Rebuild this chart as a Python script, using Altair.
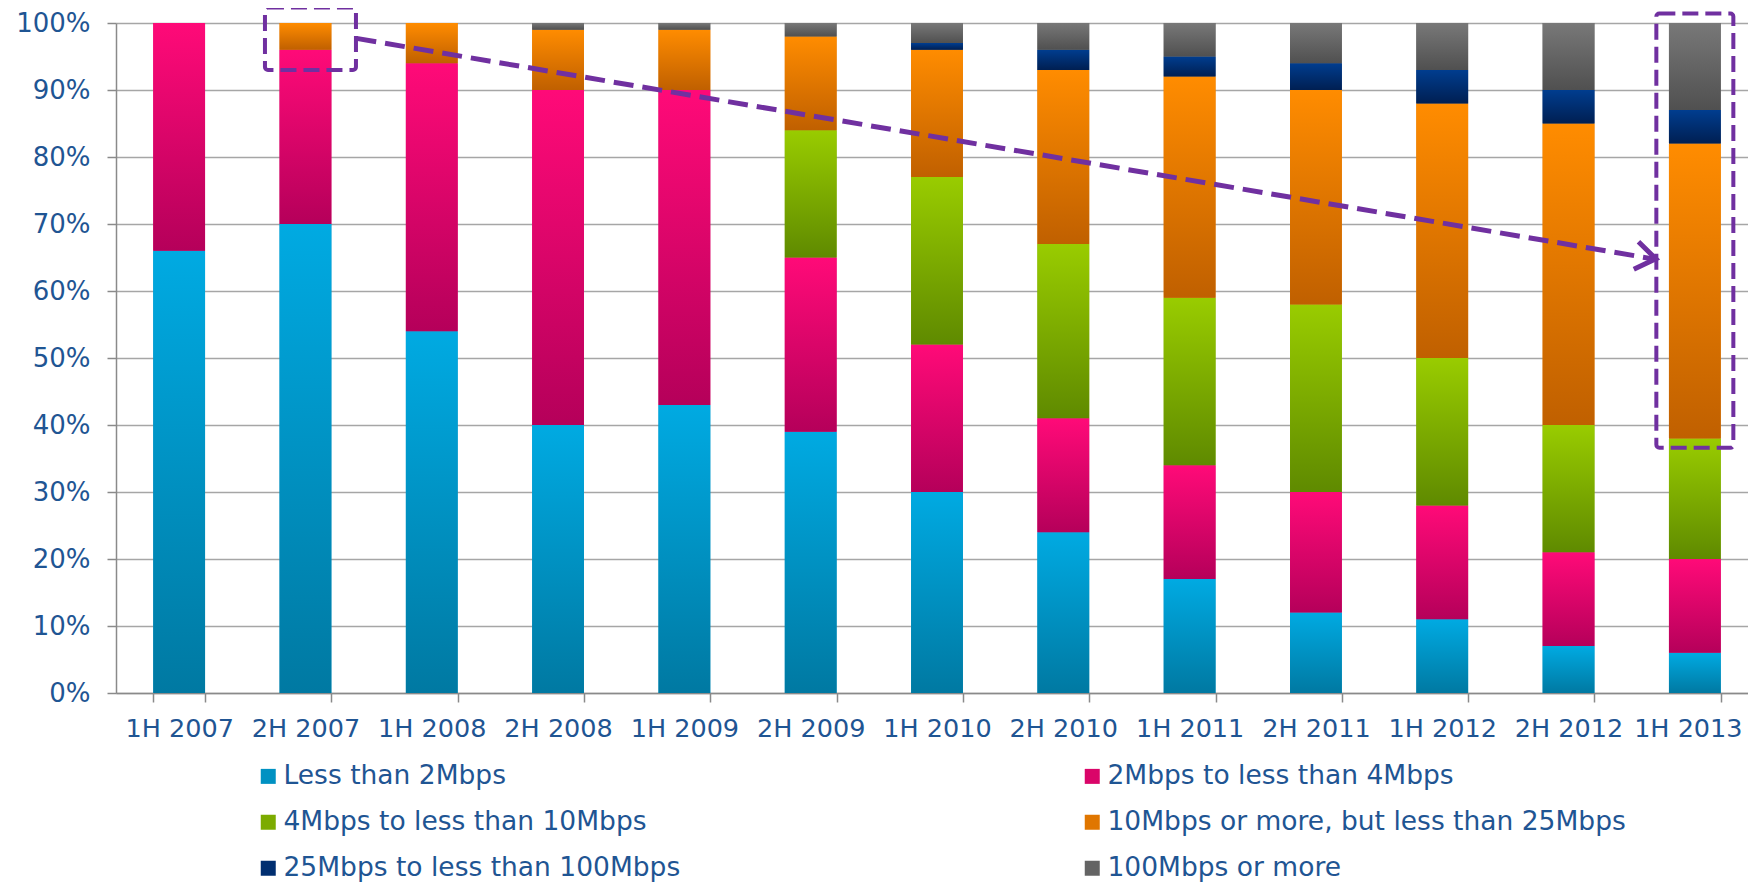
import altair as alt
import pandas as pd

periods = ["1H 2007", "2H 2007", "1H 2008", "2H 2008", "1H 2009", "2H 2009", "1H 2010",
           "2H 2010", "1H 2011", "2H 2011", "1H 2012", "2H 2012", "1H 2013"]

series = ["Less than 2Mbps", "2Mbps to less than 4Mbps", "4Mbps to less than 10Mbps",
          "10Mbps or more, but less than 25Mbps", "25Mbps to less than 100Mbps", "100Mbps or more"]

less_2 = [66, 70, 54, 40, 43, 39, 30, 24, 17, 12, 11, 7, 6]
from_2_to_4 = [34, 26, 40, 50, 47, 26, 22, 17, 17, 18, 17, 14, 14]
from_4_to_10 = [0, 0, 0, 0, 0, 19, 25, 26, 25, 28, 22, 19, 18]
from_10_to_25 = [0, 4, 6, 9, 9, 14, 19, 26, 33, 32, 38, 45, 44]
from_25_to_100 = [0, 0, 0, 0, 0, 0, 1, 3, 3, 4, 5, 5, 5]
over_100 = [0, 0, 0, 1, 1, 2, 3, 4, 5, 6, 7, 10, 13]

top_colors = ["#00aae2", "#ff0a78", "#99cc00", "#ff8c00", "#003d8f", "#787878"]
bottom_colors = ["#0079a2", "#b5005a", "#5f8a00", "#c06000", "#001f52", "#505050"]
mid_colors = ["#0091c2", "#da0569", "#7cab00", "#e07600", "#002e70", "#646464"]

# legend reading order (two columns filled row by row)
legend_order = [0, 2, 4, 1, 3, 5]

# annotation (dashed boxes and arrow)
box_periods = ["2H 2007", "1H 2013"]
box_lo = [0.93, 0.366]
box_hi = [1.023, 1.014]
arrow_from = ["2H 2007"]
arrow_to = ["1H 2013"]
arrow_y_from = [0.977]
arrow_y_to = [0.648]

all_series = [less_2, from_2_to_4, from_4_to_10, from_10_to_25, from_25_to_100, over_100]
rows = []
for si, (name, vals) in enumerate(zip(series, all_series)):
    for p, v in zip(periods, vals):
        if v > 0:
            rows.append({"period": p, "series": name, "order": si, "value": v / 100})
df = pd.DataFrame(rows)

FONT = "DejaVu Sans"
LABEL = "#1f5593"
AXC = "#8a8a8a"
PURPLE = "#7030a0"

xscale = alt.Scale(domain=periods, paddingInner=0.59, paddingOuter=0.295)
xaxis = alt.Axis(title=None, labelAngle=0, labelFontSize=25.5, labelColor=LABEL,
                 labelFont=FONT, tickBand="extent", tickSize=9, tickColor=AXC,
                 tickWidth=1.5, domainColor=AXC, domainWidth=1.5, labelPadding=14,
                 labelOffset={"condition": {"test": "datum.label == '1H 2013'", "value": -7},
                              "value": 0},
                 grid=False)

def xenc(field="period"):
    return alt.X(f"{field}:N", scale=xscale, axis=xaxis)

yscale = alt.Scale(domain=[0, 1], nice=False)
yaxis = alt.Axis(title=None, format=".0%", values=[i / 10 for i in range(11)],
                 labelFontSize=26, labelColor=LABEL, labelFont=FONT, tickSize=9,
                 tickColor=AXC, tickWidth=1.5, domainColor=AXC, domainWidth=1.5,
                 labelPadding=17, grid=True, gridColor="#a6a6a6", gridWidth=1.5)

def yenc(field):
    return alt.Y(f"{field}:Q", scale=yscale, axis=yaxis)

base = alt.Chart(df).mark_bar().encode(
    x=xenc(),
    y=alt.Y("value:Q", stack="zero", scale=yscale, axis=yaxis),
    color=alt.Color("series:N",
                    scale=alt.Scale(domain=[series[i] for i in legend_order],
                                    range=[mid_colors[i] for i in legend_order]),
                    legend=alt.Legend(title=None, orient="none", legendX=139, legendY=740,
                                      columns=2, columnPadding=398, rowPadding=19,
                                      symbolType="square", symbolSize=225, symbolStrokeWidth=0,
                                      labelFontSize=26.5, labelFont=FONT, labelColor=LABEL,
                                      labelLimit=800, labelOffset=2, gridAlign="each",
                                      padding=0)),
    order=alt.Order("order:Q", sort="ascending"),
)

layers = [base]
for si, name in enumerate(series):
    grad = alt.Gradient(gradient="linear",
                        stops=[alt.GradientStop(color=top_colors[si], offset=0),
                               alt.GradientStop(color=bottom_colors[si], offset=1)],
                        x1=0, x2=0, y1=0, y2=1)
    lyr = alt.Chart(df).transform_stack(
        stack="value", groupby=["period"], as_=["y0", "y1"],
        sort=[alt.SortField("order", order="ascending")]
    ).transform_filter(
        alt.datum.series == name
    ).mark_bar(fill=grad).encode(
        x=xenc(),
        y=yenc("y0"),
        y2="y1:Q",
    )
    layers.append(lyr)

box_df = pd.DataFrame({"period": box_periods, "lo": box_lo, "hi": box_hi})
box1 = alt.Chart(box_df.iloc[[0]]).mark_bar(
    filled=False, stroke=PURPLE, strokeWidth=4, strokeDash=[16, 7], size=91, xOffset=5,
    cornerRadius=3
).encode(x=xenc(), y=yenc("lo"), y2="hi:Q")
box2 = alt.Chart(box_df.iloc[[1]]).mark_bar(
    filled=False, stroke=PURPLE, strokeWidth=4, strokeDash=[16, 7], size=77,
    cornerRadius=3
).encode(x=xenc(), y=yenc("lo"), y2="hi:Q")

arrow_df = pd.DataFrame({"p0": arrow_from, "p1": arrow_to, "y0": arrow_y_from, "y1": arrow_y_to})
arrow_line = alt.Chart(arrow_df).mark_rule(
    stroke=PURPLE, strokeWidth=5, strokeDash=[20, 9], xOffset=51, x2Offset=-42
).encode(
    x=xenc("p0"),
    x2="p1:N",
    y=yenc("y0"),
    y2="y1:Q",
)
arrow_head = alt.Chart(arrow_df).mark_point(
    shape="M-1,-0.7L0,0L-1,0.7", filled=False, stroke=PURPLE, strokeWidth=5, size=1600,
    angle=9.6, xOffset=-39, opacity=1, strokeJoin="miter"
).encode(
    x=xenc("p1"),
    y=yenc("y1"),
)

chart = alt.layer(*layers, box1, box2, arrow_line, arrow_head).properties(
    width=1642, height=670,
    autosize=alt.AutoSizeParams(type="none"),
    padding={"left": 108, "top": 15, "right": -10, "bottom": 192},
    background="white",
).configure_view(stroke=None)

chart.save("out.html", embed_options={"renderer": "svg", "actions": False})
